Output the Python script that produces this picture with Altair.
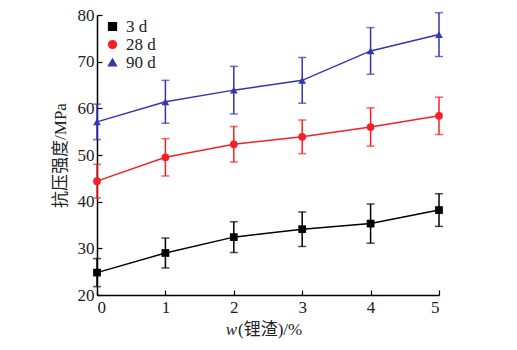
import altair as alt
import pandas as pd

x_vals = [0, 1, 2, 3, 4, 5]
series = ["3 d", "28 d", "90 d"]
d3 = [24.8, 29.0, 32.4, 34.1, 35.3, 38.2]
d3_err = [3.0, 3.2, 3.3, 3.7, 4.2, 3.5]
d28 = [44.4, 49.5, 52.3, 53.9, 56.0, 58.4]
d28_err = [3.6, 4.0, 3.8, 3.6, 4.1, 4.0]
d90 = [57.1, 61.4, 63.9, 66.0, 72.3, 75.8]
d90_err = [3.8, 4.6, 5.1, 4.9, 5.0, 4.7]
y_ticks = [20, 30, 40, 50, 60, 70, 80]

rows = []
for name, means, errs in zip(series, [d3, d28, d90], [d3_err, d28_err, d90_err]):
    for xv, m, e in zip(x_vals, means, errs):
        rows.append({"x": xv, "series": name, "y": m, "low": m - e, "high": m + e})
df = pd.DataFrame(rows)

colors = ["#000000", "#f52025", "#3535b0"]
FONT = "Liberation Serif, Noto Sans CJK SC"
W, H = 342, 280

color_scale = alt.Scale(domain=series, range=colors)
shape_scale = alt.Scale(domain=series, range=["square", "circle", "triangle-up"])
xs = alt.Scale(domain=[0, 5], nice=False)
ys = alt.Scale(domain=[20, 80], nice=False)

x_axis = alt.Axis(values=x_vals, title=None, format="d", labelFont=FONT, labelFontSize=17,
                  labelColor="#222222", labelPadding=4, ticks=False,
                  domainColor="black", domainWidth=1.5, grid=False)
y_axis = alt.Axis(values=y_ticks, title="抗压强度/MPa", labelFont=FONT, labelFontSize=17,
                  labelColor="#222222", labelPadding=3, ticks=False,
                  domainColor="black", domainWidth=1.5, grid=False,
                  titleFont=FONT, titleFontSize=17, titleFontWeight="normal",
                  titleColor="#222222", titlePadding=8)
# inward tick axes
x_tick_axis = alt.Axis(values=x_vals, orient="top", offset=-H, labels=False, domain=False,
                       title=None, tickSize=5, tickColor="black", tickWidth=1.2, grid=False)
y_tick_axis = alt.Axis(values=y_ticks, orient="right", offset=-W, labels=False, domain=False,
                       title=None, tickSize=5, tickColor="black", tickWidth=1.2, grid=False)

legend = alt.Legend(title=None, orient="none", legendX=7, legendY=3, symbolSize=60,
                    labelFont=FONT, labelFontSize=17, labelColor="#222222", rowPadding=0,
                    labelOffset=5, padding=0, symbolStrokeWidth=1.5, symbolOpacity=1)

col = alt.Color("series:N", scale=color_scale, legend=legend)
base = alt.Chart(df)

lines = base.mark_line(strokeWidth=1.5).encode(
    x=alt.X("x:Q", scale=xs, axis=x_axis),
    y=alt.Y("y:Q", scale=ys, axis=y_axis),
    color=col)
rules = base.mark_rule(strokeWidth=1.5).encode(
    x=alt.X("x:Q", scale=xs, axis=x_tick_axis),
    y=alt.Y("low:Q", scale=ys, axis=y_tick_axis), y2="high:Q",
    color=col)
cap_lo = base.mark_tick(orient="horizontal", size=8, thickness=1.5).encode(
    x=alt.X("x:Q", axis=None), y=alt.Y("low:Q", axis=None), color=col)
cap_hi = base.mark_tick(orient="horizontal", size=8, thickness=1.5).encode(
    x=alt.X("x:Q", axis=None), y=alt.Y("high:Q", axis=None), color=col)
points = base.mark_point(filled=True, opacity=1, size=60).encode(
    x=alt.X("x:Q", axis=None), y=alt.Y("y:Q", axis=None),
    color=col,
    shape=alt.Shape("series:N", scale=shape_scale, legend=legend))

tdf = pd.DataFrame({"k": [0]})
t_w = alt.Chart(tdf).mark_text(text="w", font="Liberation Serif", fontStyle="italic",
                               fontSize=17, align="right", baseline="middle",
                               color="#222222").encode(x=alt.value(140), y=alt.value(315))
t_rest = alt.Chart(tdf).mark_text(text="(锂渣)/%", font=FONT, fontSize=17, align="left",
                                  baseline="middle", color="#222222").encode(
    x=alt.value(141), y=alt.value(315))

chart = alt.layer(lines, rules, cap_lo, cap_hi, points, t_w, t_rest).resolve_axis(
    x="independent", y="independent"
).properties(
    width=W, height=H,
    padding={"left": 97, "top": 15, "right": 78, "bottom": 55},
    autosize=alt.AutoSizeParams(type="none"),
    background="white",
).configure_view(stroke="transparent")

chart.save("out.html", embed_options={"renderer": "svg", "actions": False})
